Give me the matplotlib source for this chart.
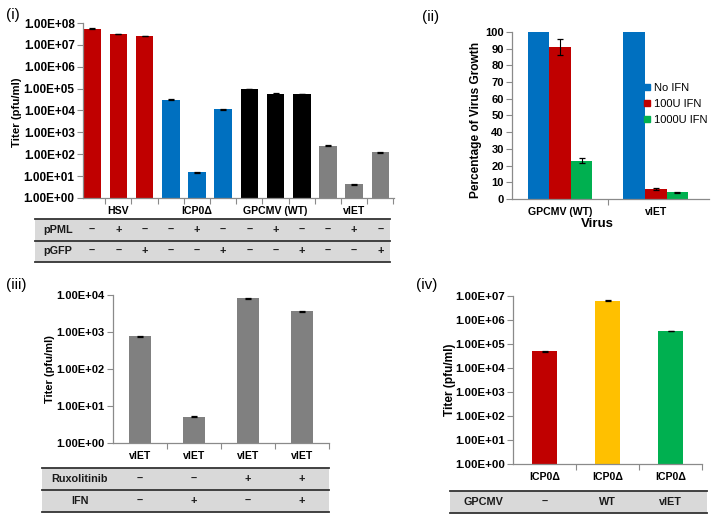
import matplotlib
matplotlib.use("Agg")
import matplotlib.pyplot as plt
from matplotlib.lines import Line2D
from matplotlib.patches import Rectangle
from matplotlib.ticker import NullLocator
from matplotlib.transforms import blended_transform_factory
import numpy as np

plt.rcParams['font.family'] = ['Liberation Sans', 'DejaVu Sans']
plt.rcParams['font.weight'] = 'bold'

# ---------------- data ----------------
p1_groups = ["HSV", "ICP0Δ", "GPCMV (WT)", "vIET"]
p1_titers = [5.6e7, 3.1e7, 2.6e7, 3.1e4, 15, 1.15e4, 9.6e4, 5.9e4, 5.6e4, 250, 4.2, 123]
p1_errors = [2.0e6, 1.0e6, 8.0e5, 1.2e3, 0.8, 5.0e2, 3.0e3, 2.0e3, 2.0e3, 12, 0.4, 5]
p1_group_colors = ["#C00000", "#0070C0", "#000000", "#808080"]
p1_pPML = ["–", "+", "–", "–", "+", "–", "–", "+", "–", "–", "+", "–"]
p1_pGFP = ["–", "–", "+", "–", "–", "+", "–", "–", "+", "–", "–", "+"]

p2_viruses = ["GPCMV (WT)", "vIET"]
p2_series = ["No IFN", "100U IFN", "1000U IFN"]
p2_no_ifn = [100, 100]
p2_100u = [91, 6]
p2_1000u = [23, 4]
p2_no_ifn_err = [0, 0]
p2_100u_err = [5, 0.4]
p2_1000u_err = [1.3, 0.3]
p2_colors = ["#0070C0", "#C00000", "#00B050"]

p3_labels = ["vIET", "vIET", "vIET", "vIET"]
p3_titers = [760, 5.2, 8100, 3600]
p3_errors = [40, 0.3, 350, 150]
p3_rux = ["–", "–", "+", "+"]
p3_ifn = ["–", "+", "–", "+"]

p4_labels = ["ICP0Δ", "ICP0Δ", "ICP0Δ"]
p4_titers = [4.9e4, 6.4e6, 3.5e5]
p4_errors = [2.5e3, 2.5e5, 1.5e4]
p4_colors = ["#C00000", "#FFC000", "#00B050"]
p4_gpcmv = ["–", "WT", "vIET"]

# ---------------- layout helpers ----------------
W, H = 714, 519
fig = plt.figure(figsize=(W / 100, H / 100), dpi=100)
AXC = "#8a8a8a"


def fx(x):
    return x / W


def fy(y):
    return 1 - y / H


def px_axes(l, t, r, b):
    return fig.add_axes([l / W, 1 - b / H, (r - l) / W, (b - t) / H])


def style(ax, ytick_size):
    for s in ["top", "right"]:
        ax.spines[s].set_visible(False)
    for s in ["left", "bottom"]:
        ax.spines[s].set_color(AXC)
        ax.spines[s].set_linewidth(0.9)
    ax.tick_params(axis="y", which="major", length=4, width=0.8, color=AXC,
                   labelsize=ytick_size, pad=2)
    ax.tick_params(axis="y", which="minor", length=0)
    ax.tick_params(axis="x", which="major", length=0, pad=6, labelsize=7.6)
    ax.tick_params(axis="x", which="minor", length=4, width=0.8, color=AXC)


def log_axis(ax, top_exp):
    ax.set_yscale("log")
    ax.set_ylim(1, 10 ** top_exp)
    ticks = [10.0 ** k for k in range(top_exp + 1)]
    ax.set_yticks(ticks, [f"1.00E+{k:02d}" for k in range(top_exp + 1)])
    ax.yaxis.set_minor_locator(NullLocator())


def errbars(ax, x, y, e):
    x = np.asarray(x, dtype=float)
    y = np.asarray(y, dtype=float)
    e = np.asarray(e, dtype=float)
    m = e > 0
    if m.any():
        ax.errorbar(x[m], y[m], yerr=e[m], fmt="none", ecolor="black", elinewidth=0.8,
                    capsize=2.3, capthick=0.9, zorder=3)


def draw_table(ax, left, right, top, row_h, labels, rows, label_x, label_ha):
    trans = blended_transform_factory(ax.transData, fig.transFigure)
    y = top
    bounds = [top]
    for lab, vals in zip(labels, rows):
        fig.patches.append(Rectangle((fx(left), fy(y + row_h)), fx(right) - fx(left),
                                     row_h / H, transform=fig.transFigure,
                                     facecolor="#D9D9D9", edgecolor="none", zorder=0))
        fig.text(fx(label_x), fy(y + row_h / 2), lab, ha=label_ha, va="center",
                 fontsize=7.8, color="#1a1a1a")
        for i, v in enumerate(vals):
            fig.text(i, fy(y + row_h / 2), v, transform=trans, ha="center",
                     va="center", fontsize=7.8, color="#1a1a1a")
        y += row_h
        bounds.append(y)
    for yb in bounds:
        fig.add_artist(Line2D([fx(left), fx(right)], [fy(yb), fy(yb)],
                              transform=fig.transFigure, color="#333333", lw=1.3))


# ---------------- panel (i) ----------------
ax1 = px_axes(83, 23, 394, 198)
x1 = np.arange(len(p1_titers))
c1 = [p1_group_colors[i // 3] for i in range(len(p1_titers))]
ax1.bar(x1, p1_titers, width=0.676, color=c1, zorder=2)
errbars(ax1, x1, p1_titers, p1_errors)
log_axis(ax1, 8)
ax1.set_xlim(-0.35, 11.52)
ax1.set_xticks([1, 4, 7, 10], p1_groups)
ax1.set_xticks(np.arange(0.5, 12, 1), minor=True)
style(ax1, 8.5)
fig.text(fx(17), fy(112), "Titer (pfu/ml)", rotation=90, ha="center", va="center", fontsize=8.2)
draw_table(ax1, 35, 390, 219, 21.5, ["pPML", "pGFP"], [p1_pPML, p1_pGFP], 43, "left")

# ---------------- panel (ii) ----------------
ax2 = px_axes(512, 32, 709, 199)
x2 = np.arange(len(p2_viruses))
bw = 0.225
series_vals = [p2_no_ifn, p2_100u, p2_1000u]
series_err = [p2_no_ifn_err, p2_100u_err, p2_1000u_err]
for k, (vals, errs) in enumerate(zip(series_vals, series_err)):
    xs = x2 + (k - 1) * bw
    ax2.bar(xs, vals, width=bw, color=p2_colors[k], zorder=2)
    errbars(ax2, xs, vals, errs)
ax2.set_ylim(0, 100)
ax2.set_yticks(np.arange(0, 101, 10))
ax2.set_xlim(-0.5, 1.555)
ax2.set_xticks(x2, p2_viruses)
ax2.set_xticks([0.5], minor=True)
style(ax2, 8)
fig.text(fx(476), fy(120), "Percentage of Virus Growth", rotation=90, ha="center",
         va="center", fontsize=8.6)
fig.text(fx(597), fy(224), "Virus", ha="center", va="center", fontsize=9.5)
handles = [Line2D([], [], marker="s", linestyle="None", color=c, markersize=4.5)
           for c in p2_colors]
fig.legend(handles, p2_series, loc="upper left", bbox_to_anchor=(fx(644), fy(83)),
           frameon=False, handlelength=0.6, handletextpad=0.3, borderpad=0,
           borderaxespad=0, labelspacing=0.55,
           prop={"size": 8, "weight": "normal"})

# ---------------- panel (iii) ----------------
ax3 = px_axes(113, 295, 329, 443)
x3 = np.arange(len(p3_titers))
ax3.bar(x3, p3_titers, width=0.41, color="#808080", zorder=2)
errbars(ax3, x3, p3_titers, p3_errors)
log_axis(ax3, 4)
ax3.set_xlim(-0.5, 3.5)
ax3.set_xticks(x3, p3_labels)
ax3.set_xticks(np.arange(0.5, 4, 1), minor=True)
style(ax3, 8)
fig.text(fx(50), fy(369), "Titer (pfu/ml)", rotation=90, ha="center", va="center", fontsize=8)
draw_table(ax3, 42, 329, 468, 22, ["Ruxolitinib", "IFN"], [p3_rux, p3_ifn], 80, "center")

# ---------------- panel (iv) ----------------
ax4 = px_axes(513, 296, 702, 464)
x4 = np.arange(len(p4_titers))
ax4.bar(x4, p4_titers, width=0.41, color=p4_colors, zorder=2)
errbars(ax4, x4, p4_titers, p4_errors)
log_axis(ax4, 7)
ax4.set_xlim(-0.5, 2.5)
ax4.set_xticks(x4, p4_labels)
ax4.set_xticks(np.arange(0.5, 3, 1), minor=True)
style(ax4, 8.2)
fig.text(fx(450), fy(380), "Titer (pfu/ml)", rotation=90, ha="center", va="center", fontsize=8.6)
draw_table(ax4, 450, 707, 491, 21.5, ["GPCMV"], [p4_gpcmv], 483, "center")

# ---------------- panel letters ----------------
for txt, x, y in [("(i)", 6, 15), ("(ii)", 422, 17), ("(iii)", 6, 285), ("(iv)", 416, 285)]:
    fig.text(fx(x), fy(y), txt, ha="left", va="center", fontsize=11, fontweight="normal")

fig.savefig("out.png", dpi=100)
